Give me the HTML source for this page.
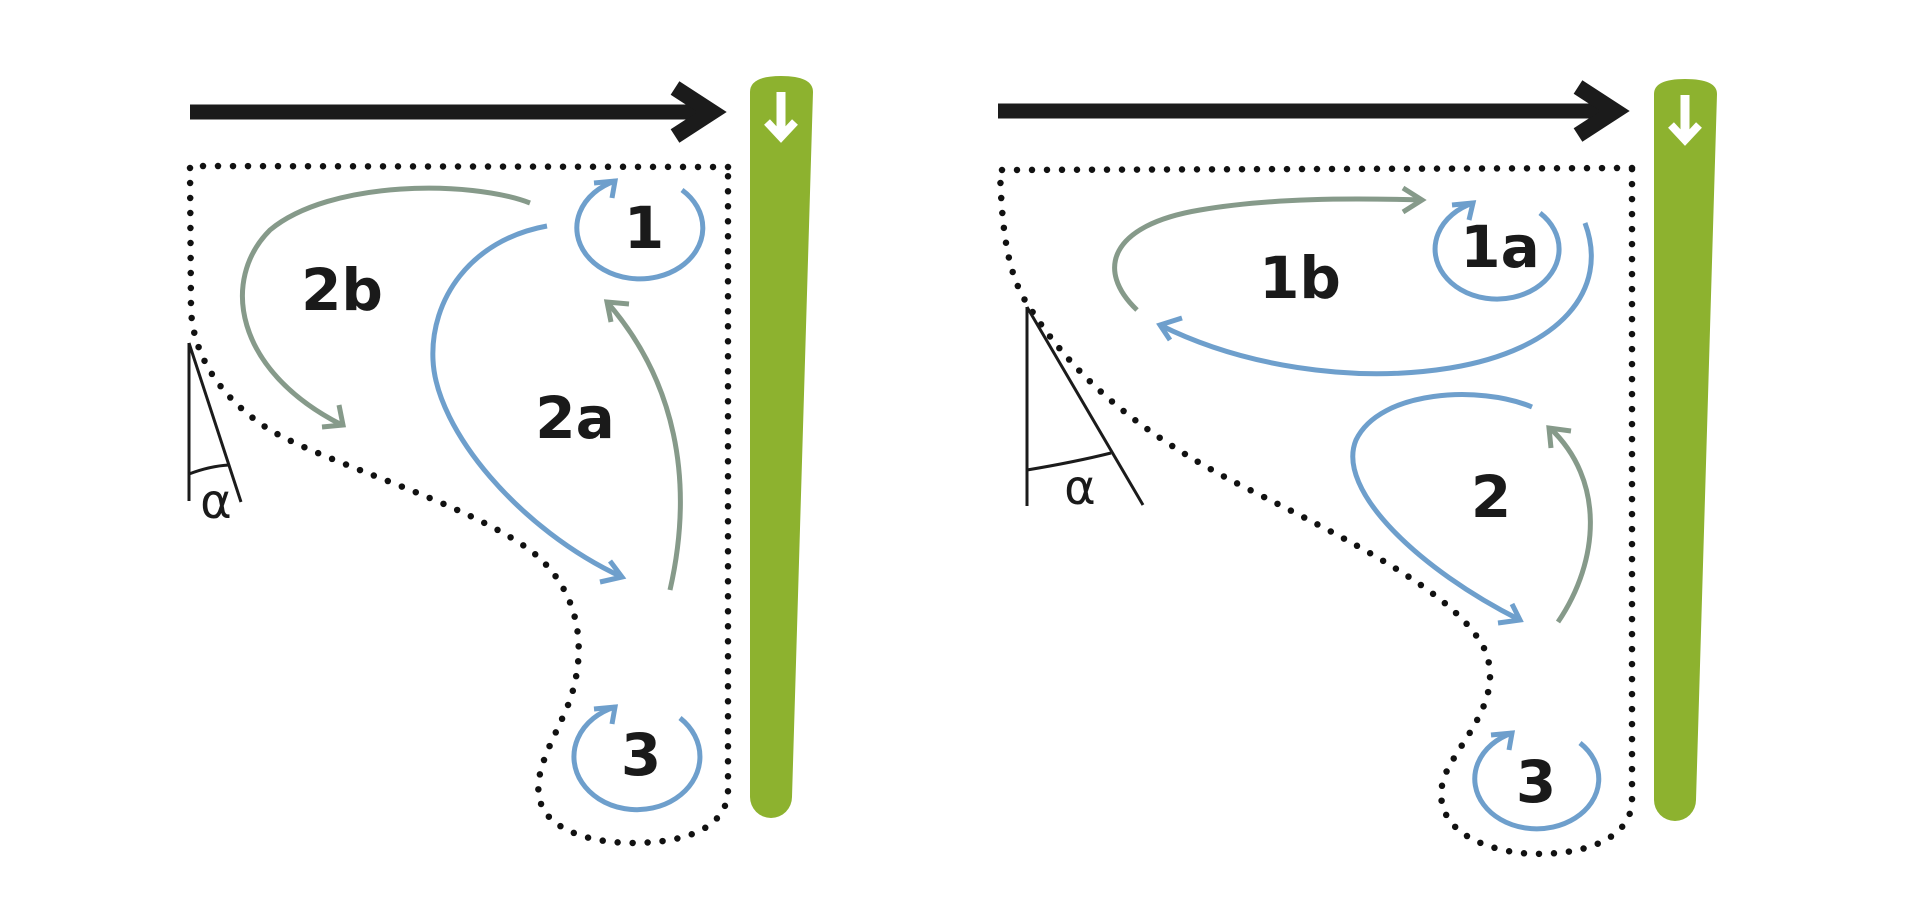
<!DOCTYPE html>
<html>
<head>
<meta charset="utf-8">
<style>
  html, body { margin:0; padding:0; background:#ffffff; }
  body { width:1920px; height:904px; overflow:hidden; }
  svg { display:block; }
  .lbl { font-family: "DejaVu Sans", "Liberation Sans", sans-serif; font-weight: bold; font-size: 58px; fill:#1a1a1a; }
  .alpha { font-family: "DejaVu Sans", "Liberation Sans", sans-serif; font-size: 48px; fill:#1a1a1a; }
</style>
</head>
<body>
<svg width="1920" height="904" viewBox="0 0 1920 904" xmlns="http://www.w3.org/2000/svg">
  <rect x="0" y="0" width="1920" height="904" fill="#ffffff"/>

  <!-- ================= LEFT PANEL ================= -->
  <line x1="190" y1="112" x2="712" y2="112" stroke="#1b1b1b" stroke-width="15"/>
  <polyline points="675,88 712,112 675,136" fill="none" stroke="#1b1b1b" stroke-width="16" stroke-linejoin="miter" stroke-miterlimit="10"/>

  <path d="M750,92 Q750,76 781,76 Q813,76 813,92 L792,797 A21,21 0 0 1 750,797 Z" fill="#8db22f"/>
  <line x1="781" y1="92" x2="781" y2="133" stroke="#ffffff" stroke-width="9"/>
  <polyline points="767,122 781,137 795,122" fill="none" stroke="#ffffff" stroke-width="8" stroke-linejoin="miter"/>

  <path d="M728,167 L190,166 L191,310 C193,350 215,395 270,430 C330,465 460,500 530,550 C575,585 590,640 570,700 C555,740 525,780 545,812 C565,840 620,848 670,840 C715,832 728,810 728,790 Z"
        fill="none" stroke="#111" stroke-width="6.5" stroke-linecap="round" stroke-dasharray="0 15"/>

  <line x1="189" y1="343" x2="189" y2="501" stroke="#1b1b1b" stroke-width="3"/>
  <line x1="189" y1="343" x2="241" y2="502" stroke="#1b1b1b" stroke-width="3"/>
  <path d="M189,474 Q210,466 229,465" fill="none" stroke="#1b1b1b" stroke-width="3"/>
  <text x="216" y="518" text-anchor="middle" class="alpha">α</text>

  <path d="M530,203 C470,180 330,180 270,230 C220,280 235,370 340,424" fill="none" stroke="#869a8a" stroke-width="5"/>
  <polyline points="339,405 343,425 322,427" fill="none" stroke="#869a8a" stroke-width="5" stroke-linejoin="miter"/>

  <path d="M547,226 C470,240 430,300 433,360 C436,430 520,530 622,577" fill="none" stroke="#6e9fcc" stroke-width="5"/>
  <polyline points="610,561 622,577 600,582" fill="none" stroke="#6e9fcc" stroke-width="5" stroke-linejoin="miter"/>

  <path d="M670,590 C695,480 675,380 607,302" fill="none" stroke="#869a8a" stroke-width="5"/>
  <polyline points="629,304 607,302 611,322" fill="none" stroke="#869a8a" stroke-width="5" stroke-linejoin="miter"/>

  <path d="M682,190 A63,51 0 1 1 615,181" fill="none" stroke="#6e9fcc" stroke-width="5"/>
  <polyline points="594,183 615,181 612,198" fill="none" stroke="#6e9fcc" stroke-width="5" stroke-linejoin="miter"/>

  <path d="M680,718 A63,53 0 1 1 615,707" fill="none" stroke="#6e9fcc" stroke-width="5"/>
  <polyline points="594,709 615,707 612,724" fill="none" stroke="#6e9fcc" stroke-width="5" stroke-linejoin="miter"/>

  <text x="644" y="248" text-anchor="middle" class="lbl">1</text>
  <text x="342" y="310" text-anchor="middle" class="lbl">2b</text>
  <text x="575" y="438" text-anchor="middle" class="lbl">2a</text>
  <text x="641" y="775" text-anchor="middle" class="lbl">3</text>

  <!-- ================= RIGHT PANEL ================= -->
  <line x1="998" y1="111" x2="1615" y2="111" stroke="#1b1b1b" stroke-width="15"/>
  <polyline points="1578,87 1615,111 1578,135" fill="none" stroke="#1b1b1b" stroke-width="16" stroke-linejoin="miter" stroke-miterlimit="10"/>

  <path d="M1654,94 Q1654,79 1685,79 Q1717,79 1717,94 L1696,800 A21,21 0 0 1 1654,800 Z" fill="#8db22f"/>
  <line x1="1685" y1="95" x2="1685" y2="135" stroke="#ffffff" stroke-width="9"/>
  <polyline points="1671,125 1685,140 1699,125" fill="none" stroke="#ffffff" stroke-width="8" stroke-linejoin="miter"/>

  <path d="M1632,168 L1000,170 C1002,240 1010,280 1030,308 C1070,370 1130,430 1250,490 C1380,555 1460,600 1485,650 C1505,700 1460,740 1445,775 C1430,815 1460,845 1520,853 C1580,858 1632,840 1632,800 Z"
        fill="none" stroke="#111" stroke-width="6.5" stroke-linecap="round" stroke-dasharray="0 15"/>

  <line x1="1027" y1="307" x2="1027" y2="506" stroke="#1b1b1b" stroke-width="3"/>
  <line x1="1027" y1="307" x2="1143" y2="505" stroke="#1b1b1b" stroke-width="3"/>
  <path d="M1027,470 Q1075,462 1111,453" fill="none" stroke="#1b1b1b" stroke-width="3"/>
  <text x="1080" y="504" text-anchor="middle" class="alpha">α</text>

  <path d="M1137,310 C1095,270 1110,225 1200,210 C1270,198 1350,198 1422,200" fill="none" stroke="#869a8a" stroke-width="5"/>
  <polyline points="1403,188 1422,200 1403,212" fill="none" stroke="#869a8a" stroke-width="5" stroke-linejoin="miter"/>

  <path d="M1585,223 C1610,290 1560,350 1450,368 C1350,384 1240,365 1160,325" fill="none" stroke="#6e9fcc" stroke-width="5"/>
  <polyline points="1182,318 1160,325 1170,340" fill="none" stroke="#6e9fcc" stroke-width="5" stroke-linejoin="miter"/>

  <path d="M1540,213 A62,50 0 1 1 1473,203" fill="none" stroke="#6e9fcc" stroke-width="5"/>
  <polyline points="1452,205 1473,203 1469,220" fill="none" stroke="#6e9fcc" stroke-width="5" stroke-linejoin="miter"/>

  <path d="M1532,407 C1480,385 1380,390 1356,440 C1335,490 1420,570 1520,620" fill="none" stroke="#6e9fcc" stroke-width="5"/>
  <polyline points="1512,604 1520,620 1498,623" fill="none" stroke="#6e9fcc" stroke-width="5" stroke-linejoin="miter"/>

  <path d="M1558,622 C1600,560 1605,480 1550,428" fill="none" stroke="#869a8a" stroke-width="5"/>
  <polyline points="1571,431 1549,428 1551,448" fill="none" stroke="#869a8a" stroke-width="5" stroke-linejoin="miter"/>

  <path d="M1580,743 A62,50 0 1 1 1512,733" fill="none" stroke="#6e9fcc" stroke-width="5"/>
  <polyline points="1491,735 1512,733 1509,750" fill="none" stroke="#6e9fcc" stroke-width="5" stroke-linejoin="miter"/>

  <text x="1500" y="267" text-anchor="middle" class="lbl">1a</text>
  <text x="1300" y="298" text-anchor="middle" class="lbl">1b</text>
  <text x="1491" y="517" text-anchor="middle" class="lbl">2</text>
  <text x="1536" y="802" text-anchor="middle" class="lbl">3</text>
</svg>
</body>
</html>
